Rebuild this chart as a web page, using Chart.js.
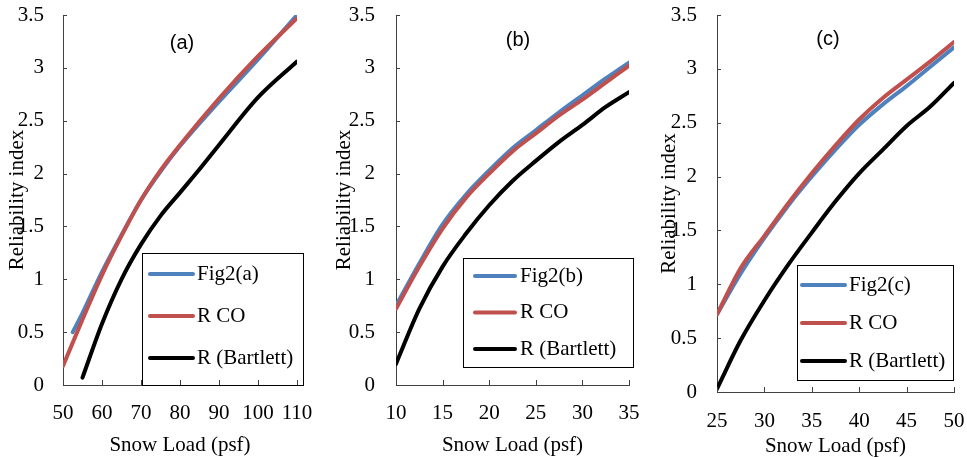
<!DOCTYPE html>
<html>
<head>
<meta charset="utf-8">
<script src="https://cdn.jsdelivr.net/npm/chart.js@4/dist/chart.umd.min.js"></script>
<style>
  html, body { margin: 0; padding: 0; background: #fff; }
  .panel { position: absolute; top: 0; height: 457px; }
</style>
</head>
<body>
<div class="panel" style="left:0;width:320px"><canvas id="chartA" width="320" height="457"></canvas></div>
<div class="panel" style="left:320px;width:320px"><canvas id="chartB" width="320" height="457"></canvas></div>
<div class="panel" style="left:640px;width:327px"><canvas id="chartC" width="327" height="457"></canvas></div>
<script>
// series names
const seriesNames = [['Fig2(a)', 'R CO', 'R (Bartlett)'], ['Fig2(b)', 'R CO', 'R (Bartlett)'], ['Fig2(c)', 'R CO', 'R (Bartlett)']];
const yTicks = [0, 0.5, 1, 1.5, 2, 2.5, 3, 3.5];

// panel (a)
const loadA_fig = [52.5, 55, 60, 65, 70, 75, 80, 90, 100, 110];
const betaA_fig = [0.5, 0.68, 1.07, 1.42, 1.75, 2.02, 2.26, 2.68, 3.08, 3.5];
const loadA_co = [50, 55, 60, 65, 70, 75, 80, 90, 100, 110];
const betaA_co = [0.18, 0.62, 1.04, 1.41, 1.75, 2.03, 2.27, 2.71, 3.11, 3.47];
const loadA_bart = [55, 60, 65, 70, 75, 80, 85, 90, 100, 110];
const betaA_bart = [0.07, 0.58, 1.0, 1.33, 1.6, 1.82, 2.04, 2.27, 2.72, 3.06];

// panel (b)
const loadB = [10, 12.5, 15, 17.5, 20, 22.5, 25, 27.5, 30, 32.5, 35];
const betaB_fig = [0.75, 1.15, 1.52, 1.8, 2.03, 2.24, 2.41, 2.58, 2.74, 2.9, 3.05];
const betaB_co = [0.72, 1.12, 1.48, 1.77, 2.0, 2.21, 2.38, 2.55, 2.7, 2.86, 3.02];
const betaB_bart = [0.2, 0.72, 1.12, 1.43, 1.7, 1.93, 2.12, 2.3, 2.46, 2.63, 2.77];

// panel (c)
const loadC = [25, 27.5, 30, 32.5, 35, 37.5, 40, 42.5, 45, 47.5, 50];
const betaC_fig = [0.72, 1.1, 1.43, 1.73, 2.0, 2.25, 2.48, 2.67, 2.84, 3.02, 3.2];
const betaC_co = [0.72, 1.15, 1.45, 1.75, 2.03, 2.29, 2.53, 2.73, 2.9, 3.07, 3.25];
const betaC_bart = [0.03, 0.48, 0.85, 1.18, 1.48, 1.77, 2.03, 2.25, 2.47, 2.65, 2.87];

const BLUE = '#4f81bd', RED = '#c0504d', BLACK = '#000000', AXIS = '#404040';

Chart.defaults.font.family = '"Liberation Serif", "Times New Roman", serif';
Chart.defaults.font.size = 21;
Chart.defaults.color = '#000';

const pts = (xs, ys) => xs.map((x, i) => ({ x: x, y: ys[i] }));

// small tick marks pointing into the plot
const inwardTicks = {
  id: 'inwardTicks',
  afterDraw(chart) {
    const ctx = chart.ctx, xs = chart.scales.x, ys = chart.scales.y;
    ctx.save();
    ctx.strokeStyle = AXIS;
    ctx.lineWidth = 1;
    ctx.beginPath();
    xs.ticks.forEach(t => {
      const px = Math.round(xs.getPixelForValue(t.value)) + 0.5;
      ctx.moveTo(px, ys.bottom);
      ctx.lineTo(px, ys.bottom - 5);
    });
    ys.ticks.forEach(t => {
      const py = Math.round(ys.getPixelForValue(t.value)) + 0.5;
      ctx.moveTo(xs.left, py);
      ctx.lineTo(xs.left + 4, py);
    });
    ctx.stroke();
    ctx.restore();
  }
};

// boxed legend drawn inside the plot
const boxLegend = {
  id: 'boxLegend',
  afterDatasetsDraw(chart, args, o) {
    const ctx = chart.ctx;
    ctx.save();
    ctx.fillStyle = '#fff';
    ctx.fillRect(o.x, o.y, o.w, o.h);
    ctx.strokeStyle = '#000';
    ctx.lineWidth = 1;
    ctx.strokeRect(o.x + 0.5, o.y + 0.5, o.w, o.h);
    ctx.font = '21px "Liberation Serif", serif';
    ctx.textBaseline = 'middle';
    chart.data.datasets.forEach((ds, i) => {
      const ry = o.y + o.first + i * o.gap;
      ctx.strokeStyle = ds.borderColor;
      ctx.lineWidth = 4;
      ctx.lineCap = 'round';
      ctx.beginPath();
      ctx.moveTo(o.lx0, ry);
      ctx.lineTo(o.lx1, ry);
      ctx.stroke();
      ctx.fillStyle = '#000';
      ctx.fillText(ds.label, o.tx, ry);
    });
    ctx.restore();
  }
};

const panelLabel = {
  id: 'panelLabel',
  afterDraw(chart, args, o) {
    const ctx = chart.ctx;
    ctx.save();
    ctx.font = '20px "Liberation Sans", Arial, sans-serif';
    ctx.fillStyle = '#000';
    ctx.textAlign = 'center';
    ctx.textBaseline = 'middle';
    ctx.fillText(o.text, o.x, o.y);
    ctx.restore();
  }
};

function makePanel(id, names, series, xMin, xMax, xStep, lay) {
  const colors = [BLUE, RED, BLACK];
  const orders = [1, 0, 2];
  return new Chart(document.getElementById(id), {
    type: 'line',
    data: {
      datasets: series.map((s, i) => ({
        label: names[i],
        data: pts(s[0], s[1]),
        borderColor: colors[i],
        backgroundColor: colors[i],
        borderWidth: 4,
        borderCapStyle: 'round',
        pointRadius: 0,
        cubicInterpolationMode: 'monotone',
        order: orders[i]
      }))
    },
    options: {
      responsive: false,
      animation: false,
      layout: { padding: { left: 0, top: lay.top, right: lay.right, bottom: 0 } },
      scales: {
        x: {
          type: 'linear',
          min: xMin, max: xMax,
          ticks: { stepSize: xStep, padding: lay.xPad, color: '#000', maxRotation: 0 },
          grid: { drawOnChartArea: false, drawTicks: false },
          border: { display: true, color: AXIS, width: 1 },
          title: { display: true, text: 'Snow Load (psf)', color: '#000', padding: { top: 0, bottom: lay.xTitlePad } },
          afterFit: s => { s.height = lay.xHeight; s.paddingLeft = 0; s.paddingRight = 0; }
        },
        y: {
          min: 0, max: 3.5,
          afterBuildTicks: s => { s.ticks = yTicks.map(v => ({ value: v })); },
          ticks: { padding: lay.yPad, color: '#000', callback: v => String(v) },
          grid: { drawOnChartArea: false, drawTicks: false },
          border: { display: true, color: AXIS, width: 1 },
          title: { display: true, text: 'Reliability index', color: '#000', padding: { top: lay.yTitlePad, bottom: 0 } },
          afterFit: s => { s.width = lay.yWidth; s.paddingTop = 0; s.paddingBottom = 0; }
        }
      },
      plugins: {
        legend: { display: false },
        tooltip: { enabled: false },
        boxLegend: lay.legend,
        panelLabel: lay.label
      }
    },
    plugins: [boxLegend, inwardTicks, panelLabel]
  });
}

makePanel('chartA', seriesNames[0],
  [[loadA_fig, betaA_fig], [loadA_co, betaA_co], [loadA_bart, betaA_bart]], 50, 110, 10,
  { top: 15, right: 23, xHeight: 72, yWidth: 63, xPad: 16, xTitlePad: -1, yPad: 19, yTitlePad: 5,
    legend: { x: 142, y: 253, w: 161, h: 132, first: 21, gap: 42, lx0: 150, lx1: 193, tx: 197 },
    label: { text: '(a)', x: 182, y: 43 } });

makePanel('chartB', seriesNames[1],
  [[loadB, betaB_fig], [loadB, betaB_co], [loadB, betaB_bart]], 10, 35, 5,
  { top: 15, right: 11, xHeight: 72, yWidth: 76, xPad: 16, xTitlePad: -1, yPad: 21, yTitlePad: 12,
    legend: { x: 143, y: 258, w: 170, h: 109, first: 18, gap: 36.5, lx0: 155, lx1: 195, tx: 200 },
    label: { text: '(b)', x: 198, y: 40 } });

makePanel('chartC', seriesNames[2],
  [[loadC, betaC_fig], [loadC, betaC_co], [loadC, betaC_bart]], 25, 50, 5,
  { top: 15, right: 13, xHeight: 65, yWidth: 77, xPad: 17, xTitlePad: -2, yPad: 20, yTitlePad: 17,
    legend: { x: 157, y: 265, w: 156, h: 115, first: 20, gap: 38, lx0: 162, lx1: 205, tx: 209 },
    label: { text: '(c)', x: 188, y: 39 } });
</script>
</body>
</html>
